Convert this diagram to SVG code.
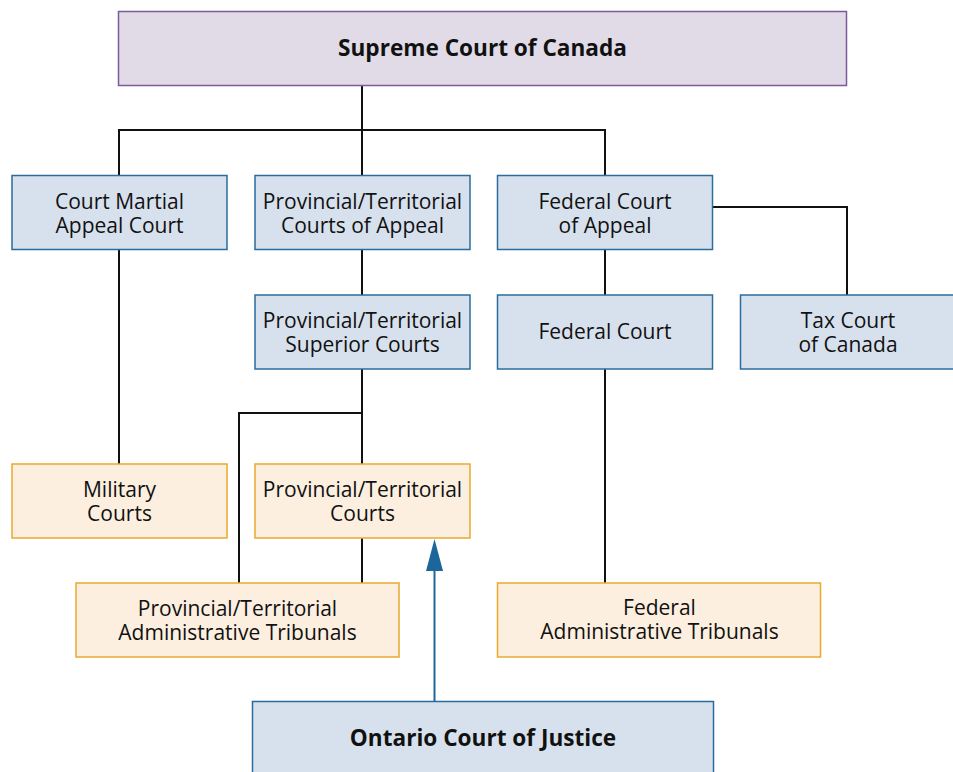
<svg xmlns="http://www.w3.org/2000/svg" width="953" height="772" viewBox="0 0 953 772">
<defs>
<style>
text{font-family:"Open Sans","Noto Sans","Liberation Sans",sans-serif;font-size:21px;fill:#111;text-anchor:middle}
.b{font-weight:bold;font-size:22.6px}
.blue{fill:#d7e1ed;stroke:#2b6c9c;stroke-width:1.5}
.org{fill:#fcefdf;stroke:#e9aa2c;stroke-width:1.5}
.sup{fill:#e0dbe7;stroke:#7e5a9b;stroke-width:1.5}
.ln{stroke:#111;stroke-width:2;fill:none}
</style>
</defs>
<g id="connectors">
<path class="ln" d="M362 86V130M119 175V130H605V175M362 130V175"/>
<path class="ln" d="M713 207H847V295"/>
<path class="ln" d="M362 250V295M605 250V295"/>
<path class="ln" d="M119 250V464"/>
<path class="ln" d="M362 369V464M362 413H239V583"/>
<path class="ln" d="M362 538V583"/>
<path class="ln" d="M605 369V583"/>
<path d="M434.5 701V568" stroke="#1c6699" stroke-width="2" fill="none"/>
<polygon points="434.5,539 426,571 443,571" fill="#1c6699"/>
</g>
<g id="supreme"><rect class="sup" x="118.5" y="11.5" width="728" height="74"/><text class="b" x="482.5" y="56">Supreme Court of Canada</text></g>
<g id="court-martial"><rect class="blue" x="12" y="175.5" width="215" height="74"/><text x="119.5" y="209">Court Martial</text><text x="119.5" y="233">Appeal Court</text></g>
<g id="prov-appeal"><rect class="blue" x="255" y="175.5" width="215" height="74"/><text x="362.5" y="209">Provincial/Territorial</text><text x="362.5" y="233">Courts of Appeal</text></g>
<g id="fed-appeal"><rect class="blue" x="497.5" y="175.5" width="215" height="74"/><text x="605" y="209">Federal Court</text><text x="605" y="233">of Appeal</text></g>
<g id="prov-superior"><rect class="blue" x="255" y="295" width="215" height="74"/><text x="362.5" y="328">Provincial/Territorial</text><text x="362.5" y="352">Superior Courts</text></g>
<g id="fed-court"><rect class="blue" x="497.5" y="295" width="215" height="74"/><text x="605" y="339">Federal Court</text></g>
<g id="tax-court"><rect class="blue" x="740.5" y="295" width="215" height="74"/><text x="848" y="328">Tax Court</text><text x="848" y="352">of Canada</text></g>
<g id="military"><rect class="org" x="12" y="464" width="215" height="74"/><text x="119.5" y="497">Military</text><text x="119.5" y="521">Courts</text></g>
<g id="prov-courts"><rect class="org" x="255" y="464" width="215" height="74"/><text x="362.5" y="497">Provincial/Territorial</text><text x="362.5" y="521">Courts</text></g>
<g id="prov-admin"><rect class="org" x="76" y="583" width="323" height="74"/><text x="237.5" y="616">Provincial/Territorial</text><text x="237.5" y="640">Administrative Tribunals</text></g>
<g id="fed-admin"><rect class="org" x="497.5" y="583" width="323" height="74"/><text x="659.5" y="615">Federal</text><text x="659.5" y="639">Administrative Tribunals</text></g>
<g id="ontario"><rect class="blue" x="252.5" y="701.5" width="461" height="80"/><text class="b" x="483" y="746">Ontario Court of Justice</text></g>
</svg>
